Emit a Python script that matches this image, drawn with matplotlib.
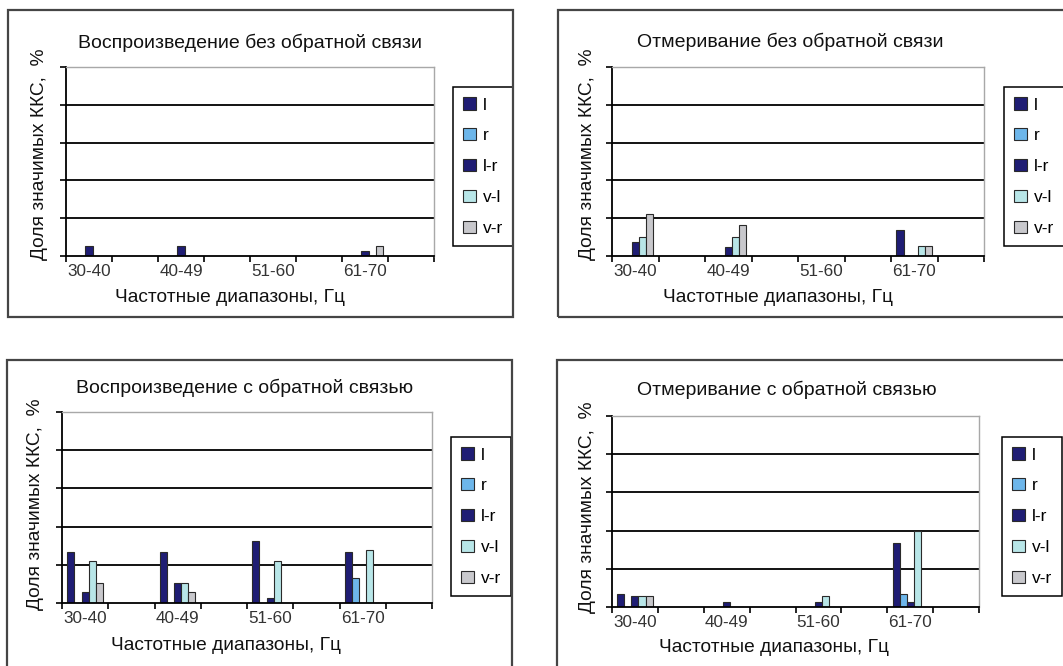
import numpy as np
import matplotlib
matplotlib.use('Agg')
import matplotlib.pyplot as plt
from matplotlib.patches import Rectangle

plt.rcParams['font.family'] = ['Liberation Sans', 'DejaVu Sans']

W, H = 1063, 666

# Data (share of significant coefficients, %)
categories = ['30-40', '40-49', '51-60', '61-70']
series_names = ['l', 'r', 'l-r', 'v-l', 'v-r']
series_colors = ['#1f1d74', '#6db6ea', '#1f1d74', '#b8e6e8', '#c8c8cc']

# rows: l, r, l-r, v-l, v-r
repro_no_fb = [
    [0, 0, 0, 0],
    [0, 0, 0, 0],
    [2.6, 2.6, 0, 1.2],
    [0, 0, 0, 0],
    [0, 0, 0, 2.6],
]
measure_no_fb = [
    [0, 0, 0, 6.8],
    [0, 0, 0, 0],
    [3.7, 2.5, 0, 0],
    [5.0, 5.0, 0, 2.6],
    [11.2, 8.2, 0, 2.6],
]
repro_fb = [
    [13.3, 13.3, 16.2, 13.3],
    [0, 0, 0, 6.6],
    [2.8, 5.3, 1.2, 0],
    [11.1, 5.3, 11.1, 13.8],
    [5.3, 2.8, 0, 0],
]
measure_fb = [
    [3.3, 0, 0, 16.7],
    [0, 0, 0, 3.3],
    [2.8, 1.3, 1.3, 1.3],
    [2.8, 0, 2.8, 19.8],
    [2.8, 0, 0, 0],
]

titles = ['Воспроизведение без обратной связи', 'Отмеривание без обратной связи',
          'Воспроизведение с обратной связью', 'Отмеривание с обратной связью']
xlabel = 'Частотные диапазоны, Гц'
ylabel = 'Доля значимых ККС,  %'
y_ticks = [0, 10, 20, 30, 40, 50]

# layout in pixels (from top-left of the image)
panels = [
    dict(data=repro_no_fb, title=titles[0], plot=(66, 67, 434, 256), frame=(8, 10, 513, 317),
         title_xy=(250, 43), xl_xy=(230, 298), yl_xy=(40, 154), leg=(453, 87)),
    dict(data=measure_no_fb, title=titles[1], plot=(612, 67, 984, 256), frame=(558, 10, 1120, 317),
         title_xy=(790, 42), xl_xy=(778, 297), yl_xy=(587, 154), leg=(1004, 87)),
    dict(data=repro_fb, title=titles[2], plot=(62, 412, 432, 603), frame=(7, 360, 512, 720),
         title_xy=(245, 388), xl_xy=(226, 645), yl_xy=(36, 504), leg=(451, 437)),
    dict(data=measure_fb, title=titles[3], plot=(612, 416, 979, 607), frame=(557, 360, 1120, 720),
         title_xy=(787, 390), xl_xy=(774, 648), yl_xy=(587, 507), leg=(1002, 437)),
]

fig = plt.figure(figsize=(W / 100, H / 100), dpi=100)
fig.patch.set_facecolor('white')

n_series = len(series_names)
bar_w = 1 / (n_series + 1.5)
x_pos = np.arange(len(categories)) * 2   # every other category slot carries a label

for p in panels:
    x0, y0, x1, y1 = p['plot']
    ax = fig.add_axes([x0 / W, 1 - y1 / H, (x1 - x0) / W, (y1 - y0) / H])

    for y in y_ticks[1:-1]:
        ax.axhline(y, color='black', lw=1.3, zorder=0.5)

    for i, name in enumerate(series_names):
        ax.bar(x_pos + (i - (n_series - 1) / 2) * bar_w, p['data'][i], width=bar_w,
               color=series_colors[i], edgecolor='#2a2a2a', linewidth=0.8,
               label=name, zorder=2)

    ax.set_xlim(-0.5, 7.5)
    ax.set_ylim(0, 50)
    ax.set_yticks(y_ticks)
    ax.set_yticklabels([])
    ax.set_xticks(np.arange(-0.5, 8, 1))
    ax.set_xticklabels([])
    ax.set_xticks(x_pos, minor=True)
    ax.set_xticklabels(categories, minor=True, fontsize=12.3, color='#333333')
    ax.tick_params(axis='both', which='major', direction='out', length=4, width=1.2, color='black')
    ax.tick_params(axis='x', which='minor', length=0, pad=6)

    for side in ['left', 'bottom']:
        ax.spines[side].set_color('black')
        ax.spines[side].set_linewidth(1.3)
    for side in ['top', 'right']:
        ax.spines[side].set_color('#a8a8a8')
        ax.spines[side].set_linewidth(1.0)

    fx0, fy0, fx1, fy1 = p['frame']
    fig.add_artist(Rectangle((fx0 / W, 1 - fy1 / H), (fx1 - fx0) / W, (fy1 - fy0) / H,
                             transform=fig.transFigure, fill=False, edgecolor='#454545',
                             linewidth=1.6, clip_on=False))

    tx, ty = p['title_xy']
    fig.text(tx / W, 1 - ty / H, p['title'], ha='center', va='center', fontsize=14, color='#111111')
    lx, ly = p['xl_xy']
    fig.text(lx / W, 1 - ly / H, xlabel, ha='center', va='center', fontsize=13.8, color='#111111')
    yx, yy = p['yl_xy']
    fig.text(yx / W, 1 - yy / H, ylabel, ha='center', va='center', rotation=90,
             fontsize=13.8, color='#111111')

    gx, gy = p['leg']
    ax.legend(loc='upper left', bbox_to_anchor=(gx / W, 1 - gy / H), bbox_transform=fig.transFigure,
              fontsize=12.5, frameon=True, fancybox=False, edgecolor='black', framealpha=1,
              handlelength=0.7, handleheight=0.7, handletextpad=0.4, labelspacing=0.9,
              borderpad=0.6, borderaxespad=0)
    ax.get_legend().get_frame().set_linewidth(1.1)

fig.savefig('out.png', dpi=100, facecolor='white')
